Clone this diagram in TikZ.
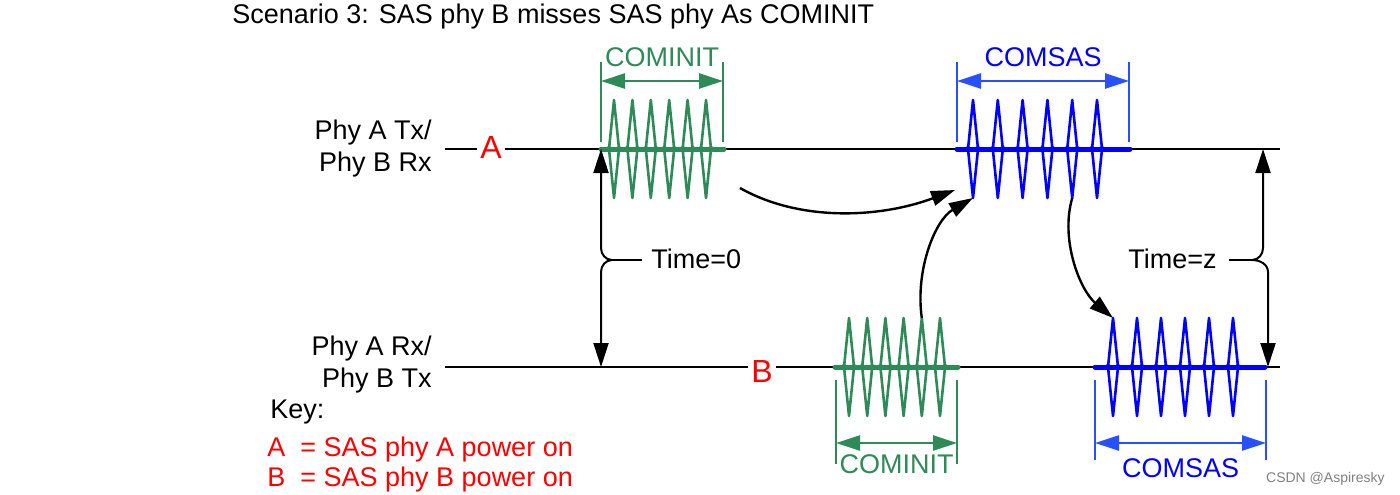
\documentclass[tikz,border=0pt]{standalone}
\usepackage{fontspec}
\setmainfont{Liberation Sans}
\usetikzlibrary{arrows.meta,positioning,calc}
\definecolor{sigred}{RGB}{255,0,0}
\definecolor{initgreen}{RGB}{46,139,87}
\definecolor{sasblue}{RGB}{0,0,255}
\definecolor{dimblue}{RGB}{40,80,255}

% name, x left, x right, first spike x, spacing, base y, colour
\newcommand{\sigburst}[7]{%
  \draw[line width=2.5pt,#7,line cap=round] (#2,#6)--(#3,#6);
  \foreach \i in {1,...,6} {
    \pgfmathsetmacro{\dx}{#4+(\i-1)*#5}
    \coordinate (#1-\i-top) at (\dx,#6-49);
    \coordinate (#1-\i-bot) at (\dx,#6+49);
    \draw[#7,line width=1.3pt,line join=round] (#1-\i-top)--(\dx-5,#6)--(#1-\i-bot)--(\dx+5,#6)--cycle;
    \fill[#7] (\dx-5,#6) circle (1.5pt) (\dx+5,#6) circle (1.5pt);
  }}
% x left, x right, tick top, tick bottom, arrow y, label baseline, colour, text colour, text
\newcommand{\dimmark}[9]{%
  \draw[tick,#7] (#1,#3)--(#1,#4) (#2,#3)--(#2,#4);
  \draw[dim,#7] (#1,#5)--(#2,#5);
  \node[anchor=base,text=#8] at ({(#1+#2)/2},#6) {#9};}

\begin{document}
\begin{tikzpicture}[x=0.5pt,y=-0.5pt,>={Triangle[length=12pt,width=7.5pt]},
  every node/.style={font=\fontsize{13.5}{15}\selectfont,inner sep=0pt},
  wire/.style={line width=1pt},
  dim/.style={<->,line width=1.2pt},
  tick/.style={line width=1.2pt},
  flow/.style={->,line width=1.2pt,black},
  powermark/.style={text=sigred,font=\fontsize{16}{18}\selectfont,fill=white,inner sep=1.5pt}]
  \useasboundingbox (0,0) rectangle (1400,494);
  \node[anchor=base west] (title) at (232,23) {Scenario 3: SAS phy B misses SAS phy As COMINIT};
  % lines
  \node[anchor=base east] (txA) at (432,139) {Phy A Tx/};
  \node[anchor=base east] (rxB) at (432,171) {Phy B Rx};
  \node[anchor=base east] (rxA) at (432,355) {Phy A Rx/};
  \node[anchor=base east] (txB) at (432,387) {Phy B Tx};
  \coordinate (lineA-l) at (445,149);
  \coordinate (lineA-r) at (1280,149);
  \coordinate (lineB-l) at (445,367);
  \coordinate (lineB-r) at (1280,367);
  \draw[wire] (lineA-l)--(lineA-r);
  \draw[wire] (lineB-l)--(lineB-r);
  \node[powermark] (pwrA) at (491,147) {A};
  \node[powermark] (pwrB) at (762,371) {B};
  % bursts
  \sigburst{initA}{601}{724}{614}{18.4}{149}{initgreen}
  \sigburst{sasA}{957}{1130}{973}{24.8}{149}{sasblue}
  \sigburst{initB}{835}{958}{849}{18.2}{367}{initgreen}
  \sigburst{sasB}{1095}{1265}{1113}{24}{367}{sasblue}
  \dimmark{601}{723}{62}{142}{81}{66}{initgreen}{initgreen}{COMINIT}
  \dimmark{957}{1129}{62}{142}{81}{66}{dimblue}{sasblue}{COMSAS}
  \dimmark{836}{957}{380}{464}{443}{473}{initgreen}{initgreen}{COMINIT}
  \dimmark{1095}{1266}{380}{460}{443}{477}{dimblue}{sasblue}{COMSAS}
  % time marks
  \coordinate (t0-top) at (601,149);
  \coordinate (t0-bot) at (601,367);
  \coordinate (t0-mid) at (612,260);
  \node[anchor=base west] (time0) at (651,268) {Time=0};
  \draw[wire,<->] (t0-top)--(601,248) to[out=-90,in=180] (t0-mid) to[out=180,in=90] (601,272)--(t0-bot);
  \draw[wire] (t0-mid)--([xshift=-4.5pt]time0.west|-t0-mid);
  \coordinate (tz-top) at (1263,149);
  \coordinate (tz-bot) at (1268,367);
  \coordinate (tz-mid) at (1252,260);
  \node[anchor=base west] (timez) at (1128,268) {Time=z};
  \draw[wire,<->] (tz-top)--(1263,248) to[out=-90,in=0] (tz-mid) to[out=0,in=90] (1268,272)--(tz-bot);
  \draw[wire] (tz-mid)--([xshift=6pt]timez.east|-tz-mid);
  % handshake
  \coordinate (echo-start) at (740,188);
  \coordinate (echo-end) at (955,190);
  \draw[flow] (echo-start) .. controls (800,222) and (880,218) .. (echo-end);
  \draw[flow] (initB-5-top) .. controls (915,270) and (935,220) .. (sasA-1-bot);
  \draw[flow] (sasA-5-bot) .. controls (1060,240) and (1080,290) .. (sasB-1-top);
  % key
  \node[anchor=base west] (key) at (270,418) {Key:};
  \node[anchor=base west,text=sigred] (keyA) at (267,456) {A \ = SAS phy A power on};
  \node[anchor=base west,text=sigred] (keyB) at (267,486) {B \ = SAS phy B power on};
  \node[anchor=base east,text=gray,font=\fontsize{7}{8}\selectfont] (mark) at (1385,482) {CSDN @Aspiresky};
\end{tikzpicture}
\end{document}
